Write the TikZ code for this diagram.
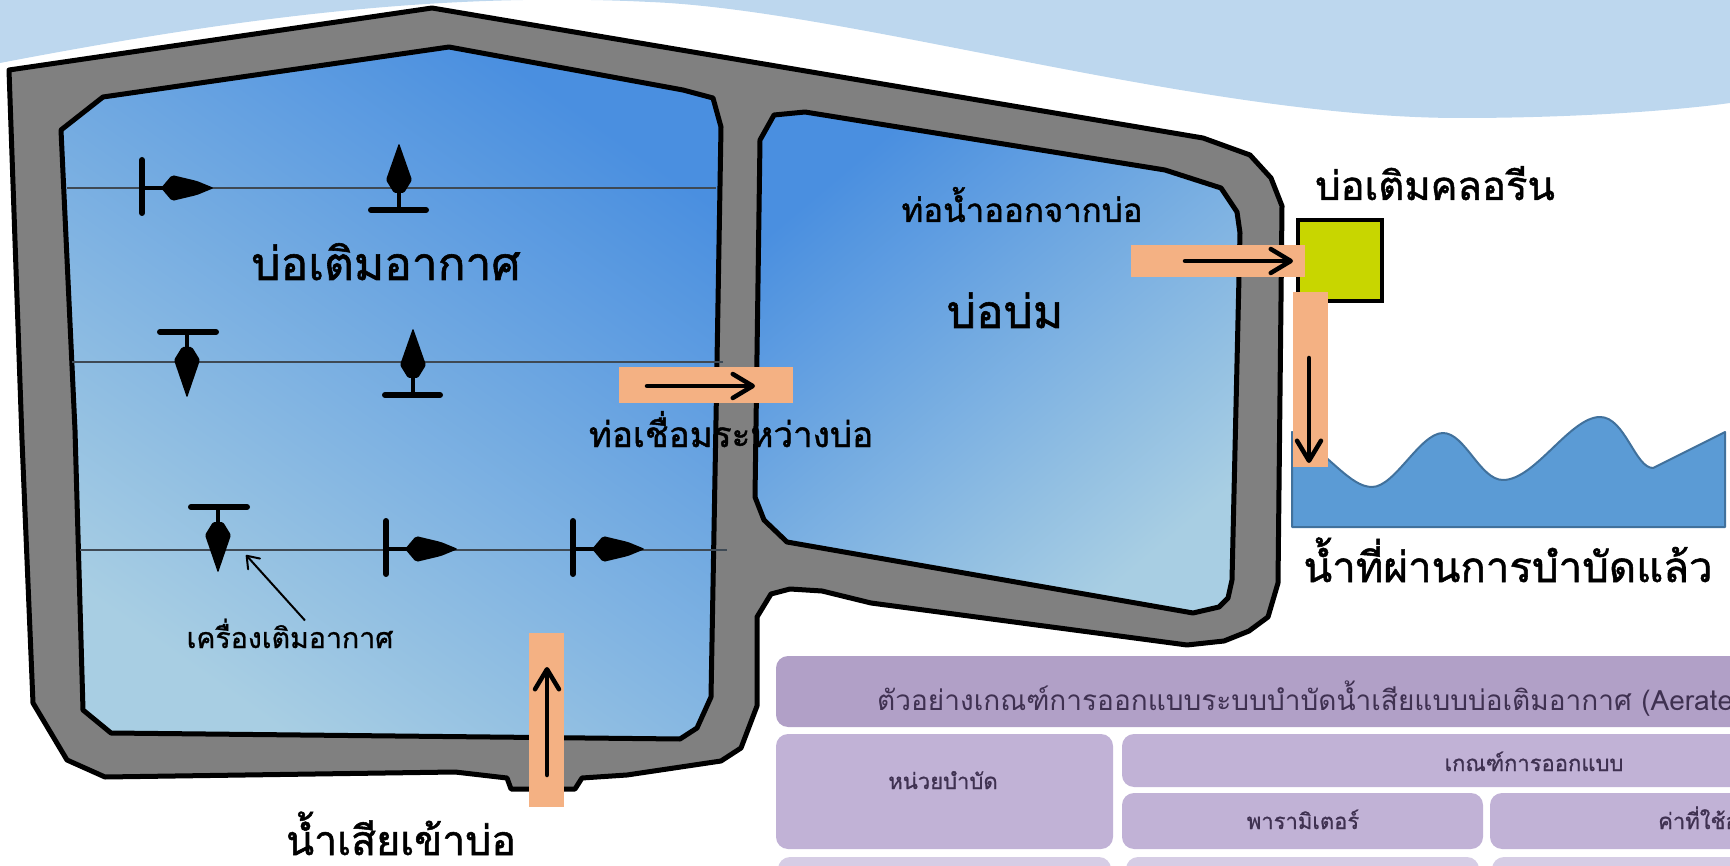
\documentclass[tikz,border=0pt]{standalone}
\usepackage{fontspec}
\setmainfont{Loma}[Script=Thai]
\newfontfamily\heavy{Loma}[Script=Thai, FakeBold=1.25]
\newfontfamily\semiheavy{Loma}[Script=Thai, FakeBold=0.9]
\usetikzlibrary{arrows.meta}

\definecolor{sky}{HTML}{BDD7EE}
\definecolor{wall}{HTML}{808080}
\definecolor{deepwater}{HTML}{4A8FE0}
\definecolor{shallow}{HTML}{A8CEE3}
\definecolor{pipe}{HTML}{F4B183}
\definecolor{chlorine}{HTML}{C8D600}
\definecolor{outflow}{HTML}{5B9BD5}
\definecolor{outflowedge}{HTML}{41719C}
\definecolor{hdrfill}{HTML}{B1A0C7}
\definecolor{cellfill}{HTML}{C1B2D6}
\definecolor{rowfill}{HTML}{D6CDE5}
\definecolor{tabletext}{HTML}{3F3151}
\definecolor{airline}{HTML}{3E4954}

\tikzset{
  rim/.style={line width=5pt, draw=black, line join=round},
  pipebox/.style={fill=pipe, draw=none, inner sep=0pt},
  flow/.style={line width=4.5pt, line cap=round,
    -{Straight Barb[round, length=20pt, width=24pt, line width=4.5pt]}},
  pointer/.style={line width=2pt,
    -{Straight Barb[round, length=11pt, width=16pt, line width=2pt]}},
  lbl/.style={anchor=base, inner sep=0pt, text depth=0pt},
  big/.style={lbl, font=\heavy\fontsize{46}{50}\selectfont},
  mid/.style={lbl, font=\heavy\fontsize{40}{44}\selectfont},
  small/.style={lbl, font=\heavy\fontsize{33}{37}\selectfont},
  cell/.style={rounded corners=12pt},
  celltext/.style={anchor=base, inner sep=0pt, text=tabletext,
    font=\semiheavy\fontsize{22}{26}\selectfont},
  airpipe/.style={draw=airline, line width=2.2pt},
  % aerator lying on its side, pointing right; origin on the air line at the bar
  aer right/.pic={
    \draw[line width=6pt, line cap=round] (0,-28) -- (0,25);
    \draw[line width=4pt] (0,0) -- (21,0);
    \fill[rounded corners=2pt] (19,0) -- (30,-13) -- (55,-7) -- (72,0)
      -- (55,7) -- (30,13) -- cycle;
  },
  % aerator pointing up with its foot below; origin at the widest point
  aer up/.pic={
    \fill[rounded corners=1.5pt] (0,-37) -- (13,0) -- (5,13) -- (-5,13)
      -- (-13,0) -- cycle;
    \draw[line width=4pt] (0,10) -- (0,30);
    \draw[line width=6pt, line cap=round] (-28,30) -- (27,30);
  },
  % aerator pointing down with its bar on top; origin at the widest point
  aer down/.pic={
    \fill[rounded corners=1.5pt] (0,38) -- (13,0) -- (5,-13) -- (-5,-13)
      -- (-13,0) -- cycle;
    \draw[line width=4pt] (0,-10) -- (0,-28);
    \draw[line width=6pt, line cap=round] (-27,-28) -- (29,-28);
  },
}

\begin{document}
\begin{tikzpicture}[x=1pt, y=-1pt]
\useasboundingbox (0,0) rectangle (1730,866);
\clip (0,0) rectangle (1730,866);

% sky band across the top
\fill[sky] (0,0) -- (0,63) .. controls (250,15) and (450,-8) .. (650,2)
  .. controls (850,10) and (1200,118) .. (1460,118)
  .. controls (1580,118) and (1680,110) .. (1730,103) -- (1730,0) -- cycle;

% concrete walls of both ponds
\filldraw[fill=wall, rim] (9,70) -- (432,8) -- (1203,138) -- (1250,155)
  -- (1271,178) -- (1282,206) -- (1278,583) -- (1268,617) -- (1249,631)
  -- (1224,641) -- (1187,645) -- (871,603) -- (822,591) -- (790,589)
  -- (771,594) -- (757,617) -- (757,706) -- (741,748) -- (721,761)
  -- (627,775) -- (582,778) -- (575,789) -- (511,789) -- (507,778)
  -- (455,772) -- (105,777) -- (67,760) -- (33,703) -- (22,440) -- cycle;

% aeration pond
\shadedraw[rim, top color=deepwater, bottom color=shallow, shading angle=-35]
  (61,130) -- (103,97) -- (449,47) -- (683,90) -- (713,98) -- (721,127)
  -- (716,420) -- (711,697) -- (697,728) -- (680,739) -- (111,733)
  -- (83,710) -- (75,430) -- cycle;

% maturation pond
\shadedraw[rim, top color=deepwater, bottom color=shallow, shading angle=40]
  (760,140) -- (774,115) -- (805,112) -- (1165,170) -- (1221,188)
  -- (1237,212) -- (1240,233) -- (1232,580) -- (1228,598) -- (1219,607)
  -- (1193,613) -- (787,542) -- (764,520) -- (755,497) -- cycle;

% air supply lines
\coordinate (l1a) at (67,188);  \coordinate (l1b) at (716,188);
\coordinate (l2a) at (72,362);  \coordinate (l2b) at (723,362);
\coordinate (l3a) at (80,550);  \coordinate (l3b) at (727,550);
\draw[airpipe] (l1a) -- (l1b);
\draw[airpipe] (l2a) -- (l2b);
\draw[airpipe] (l3a) -- (l3b);

% aerators
\pic at (142,188) {aer right};
\pic at (399,180) {aer up};
\pic at (187,360) {aer down};
\pic at (413,365) {aer up};
\pic at (218,535) {aer down};
\pic at (386,549) {aer right};
\pic at (573,549) {aer right};

% labels inside the ponds
\node[big] (aerpond) at (386,280) {บ่อเติมอากาศ};
\node[big] (matpond) at (1005,328) {บ่อบ่ม};
\node[small] (outlab) at (1022,222) {ท่อน้ำออกจากบ่อ};
\node[lbl, font=\heavy\fontsize{35}{39}\selectfont] (linklab) at (731,447) {ท่อเชื่อมระหว่างบ่อ};
\node[lbl, font=\semiheavy\fontsize{28.5}{32}\selectfont]
  (aerlab) at (290,648) {เครื่องเติมอากาศ};
\coordinate (aertip) at (246,555);
\draw[pointer] (aerlab.north) ++(15,2) -- (aertip);

% chlorine contact tank
\node[fill=chlorine, draw=black, line width=4pt, inner sep=0pt,
  minimum width=84pt, minimum height=81pt] (chlor) at (1340,260.5) {};
\node[mid] (chlorlab) at (1435,200) {บ่อเติมคลอรีน};

% treated water
\filldraw[fill=outflow, draw=outflowedge, line width=2pt, line join=round]
  (1292,527) -- (1292,432) .. controls (1330,455) and (1350,487) .. (1372,487)
  .. controls (1395,487) and (1420,433) .. (1443,433)
  .. controls (1465,433) and (1480,480) .. (1503,480)
  .. controls (1535,480) and (1570,417) .. (1600,417)
  .. controls (1625,417) and (1635,468) .. (1653,468)
  -- (1725,432) -- (1725,527) -- cycle;
\node[lbl, font=\heavy\fontsize{42}{46}\selectfont] (treated) at (1508,582) {น้ำที่ผ่านการบำบัดแล้ว};

% pipes
\node[pipebox, minimum width=174pt, minimum height=36pt] (linkpipe) at (706,385) {};
\node[pipebox, minimum width=174pt, minimum height=32pt] (outpipe) at (1218,261) {};
\node[pipebox, minimum width=35pt, minimum height=175pt] (downpipe) at (1310.5,379.5) {};
\node[pipebox, minimum width=35pt, minimum height=174pt] (inpipe) at (546.5,720) {};

% flow directions
\coordinate (f1a) at (647,386);   \coordinate (f1b) at (755,386);
\coordinate (f2a) at (1185,261);  \coordinate (f2b) at (1293,261);
\coordinate (f3a) at (1309,358);  \coordinate (f3b) at (1309,463);
\coordinate (f4a) at (547,775);   \coordinate (f4b) at (547,667);
\draw[flow] (f1a) -- (f1b);
\draw[flow] (f2a) -- (f2b);
\draw[flow] (f3a) -- (f3b);
\draw[flow] (f4a) -- (f4b);

\node[lbl, font=\heavy\fontsize{41}{45}\selectfont] (inlab) at (401,855) {น้ำเสียเข้าบ่อ};

% design criteria table
\fill[cell, fill=hdrfill] (776,656) rectangle (1780,727);
\fill[cell, fill=cellfill] (776,734) rectangle (1113,849);
\fill[cell, fill=cellfill] (1122,734) rectangle (1780,787);
\fill[cell, fill=cellfill] (1122,793) rectangle (1483,849);
\fill[cell, fill=cellfill] (1490,793) rectangle (1780,849);
\fill[cell, fill=rowfill] (778,857) rectangle (1111,900);
\fill[cell, fill=rowfill] (1126,857) rectangle (1479,900);
\fill[cell, fill=rowfill] (1492,857) rectangle (1780,900);

\node[celltext, anchor=base west, font=\fontsize{28}{32}\selectfont]
  (tabtitle) at (877,710) {ตัวอย่างเกณฑ์การออกแบบระบบบำบัดน้ำเสียแบบบ่อเติมอากาศ (Aerated};
\node[celltext] (unitlab) at (943,789) {หน่วยบำบัด};
\node[celltext] (critlab) at (1534,771) {เกณฑ์การออกแบบ};
\node[celltext] (paramlab) at (1303,829) {พารามิเตอร์};
\node[celltext, anchor=base west] (valuelab) at (1658,829) {ค่าที่ใช้อ};
\end{tikzpicture}
\end{document}
